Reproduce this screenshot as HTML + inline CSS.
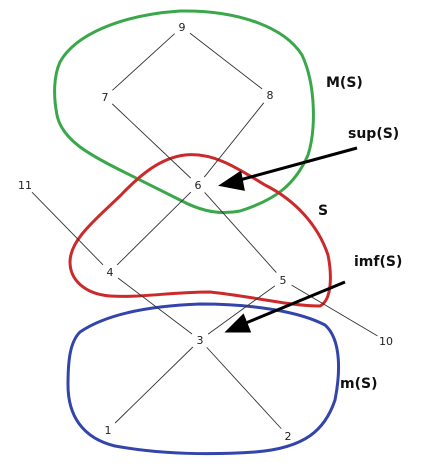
<!DOCTYPE html>
<html><head><meta charset="utf-8"><style>
html,body{margin:0;padding:0;background:#fff;width:424px;height:468px;overflow:hidden}
svg{display:block}
.n{font-family:"DejaVu Sans","Liberation Sans",sans-serif;font-size:11px;fill:#222}
.l{font-family:"DejaVu Sans","Liberation Sans",sans-serif;font-size:14px;font-weight:bold;fill:#111}
</style></head><body>
<svg width="424" height="468" viewBox="0 0 424 468">
<g fill="none" stroke-linejoin="round" stroke-linecap="round">
<path stroke="#3aa84a" stroke-width="3" d="M60,62 C75,35 120,15 180,11 C240,10 285,28 302,55 C316,85 316,130 308,155 C295,185 275,200 240,211 C215,216 195,208 180,200 C160,190 140,180 120,170 C90,155 62,140 57,115 C53,95 54,75 60,62 Z"/>
<path stroke="#cc2a2a" stroke-width="3" d="M120,196 C140,175 160,158 185,155 C215,152 240,170 265,185 C295,200 318,225 328,255 C332,275 332,300 320,306 C290,306 250,296 210,292 C170,292 140,298 110,296 C85,294 70,280 70,262 C70,240 95,220 120,196 Z"/>
<path stroke="#3344aa" stroke-width="3" d="M80,332 C105,315 145,306 200,304 C255,304 300,312 325,325 C342,340 340,375 335,400 C325,430 305,448 255,452 C210,455 160,454 115,446 C82,438 68,415 68,385 C68,360 70,342 80,332 Z"/>
</g>
<g id="edges" stroke="#333" stroke-width="0.9"></g>
<g id="nodes"></g>
<g stroke="#000" stroke-width="3" fill="#000">
<line x1="357" y1="148" x2="236" y2="181"/>
<polygon points="222,185 240,173 243,189"/>
<line x1="345" y1="282" x2="241" y2="325"/>
<polygon points="228,331 243,316 249,331"/>
</g>
<text class="l" x="326" y="87">M(S)</text>
<text class="l" x="348" y="138">sup(S)</text>
<text class="l" x="318" y="215">S</text>
<text class="l" x="354" y="266">imf(S)</text>
<text class="l" x="340" y="388">m(S)</text>
</svg>
<script>
const nodeIds=["9","7","8","6","11","4","5","3","10","1","2"];
const nodeX=[182,105,270,198,25,110,283,200,386,108,288];
const nodeY=[27,97,95,185,185,272,280,340,341,430,436];
const edges=[["9","7"],["9","8"],["7","6"],["8","6"],["6","4"],["6","5"],["11","4"],["4","3"],["5","3"],["5","10"],["3","1"],["3","2"]];
const NS="http://www.w3.org/2000/svg";
const eg=document.getElementById("edges"),ng=document.getElementById("nodes");
function pos(id){const i=nodeIds.indexOf(id);return [nodeX[i],nodeY[i]];}
edges.forEach(([a,b])=>{
  const [x1,y1]=pos(a),[x2,y2]=pos(b);
  const dx=x2-x1,dy=y2-y1,d=Math.hypot(dx,dy),g=10;
  const ln=document.createElementNS(NS,"line");
  ln.setAttribute("x1",x1+dx/d*g);ln.setAttribute("y1",y1+dy/d*g);
  ln.setAttribute("x2",x2-dx/d*g);ln.setAttribute("y2",y2-dy/d*g);
  
  
  eg.appendChild(ln);
});
nodeIds.forEach((id,i)=>{
  const t=document.createElementNS(NS,"text");
  t.setAttribute("class","n");t.setAttribute("x",nodeX[i]);t.setAttribute("y",nodeY[i]+4);
  t.setAttribute("text-anchor","middle");t.textContent=id;
  
  
  ng.appendChild(t);
});
</script>
</body></html>
